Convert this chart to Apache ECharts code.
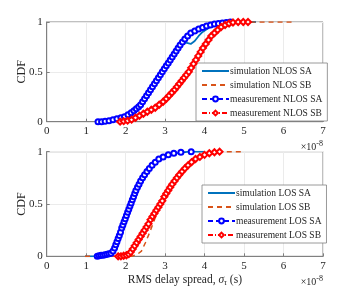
<!DOCTYPE html>
<html>
<head>
<meta charset="utf-8">
<script src="https://cdn.jsdelivr.net/npm/echarts@6/dist/echarts.min.js"></script>
<style>html,body{margin:0;padding:0;background:#fff}#c{width:358px;height:292px}</style>
</head>
<body>
<div id="c"></div>
<script>
// x values in units of 1e-8 s
const xTicks = [0, 1, 2, 3, 4, 5, 6, 7];
const yTicks = [0, 0.5, 1];

const simNlosSA = [[1.75,0],[1.9,0.03],[2.0,0.05],[2.1,0.09],[2.2,0.12],[2.3,0.14],[2.4,0.19],[2.5,0.26],[2.58,0.32],[2.65,0.34],[2.75,0.40],[2.85,0.47],[2.95,0.53],[3.05,0.60],[3.15,0.64],[3.25,0.68],[3.35,0.74],[3.45,0.79],[3.55,0.79],[3.65,0.78],[3.75,0.81],[3.85,0.86],[3.95,0.90],[4.1,0.94],[4.3,0.97],[4.6,0.99],[5.0,1.0],[5.3,1.0]];
const simNlosSB = [[1.9,0],[2.3,0.04],[2.7,0.12],[3.0,0.21],[3.3,0.35],[3.6,0.50],[3.9,0.69],[4.2,0.86],[4.5,0.95],[4.8,0.99],[5.2,1.0],[6.25,1.0]];
const measNlosSA = [[1.30,0],[1.39,0],[1.48,0.005],[1.58,0.01],[1.68,0.02],[1.78,0.03],[1.88,0.04],[1.97,0.05],[2.06,0.07],[2.14,0.09],[2.21,0.11],[2.27,0.13],[2.33,0.15],[2.38,0.17],[2.43,0.20],[2.48,0.23],[2.53,0.26],[2.58,0.29],[2.63,0.32],[2.68,0.35],[2.73,0.38],[2.78,0.41],[2.83,0.44],[2.88,0.47],[2.93,0.50],[2.98,0.53],[3.03,0.56],[3.08,0.59],[3.13,0.62],[3.18,0.65],[3.23,0.68],[3.28,0.71],[3.33,0.74],[3.38,0.77],[3.44,0.80],[3.50,0.83],[3.57,0.86],[3.65,0.89],[3.75,0.91],[3.85,0.93],[3.95,0.945],[4.05,0.96],[4.15,0.97],[4.25,0.98],[4.35,0.985],[4.45,0.99],[4.55,0.995],[4.65,1.0]];
const measNlosSB = [[1.86,0],[1.95,0.005],[2.05,0.01],[2.15,0.02],[2.25,0.04],[2.35,0.06],[2.45,0.08],[2.55,0.10],[2.65,0.12],[2.75,0.14],[2.85,0.17],[2.95,0.20],[3.03,0.23],[3.10,0.26],[3.17,0.29],[3.24,0.32],[3.30,0.35],[3.36,0.38],[3.42,0.41],[3.48,0.44],[3.54,0.47],[3.60,0.50],[3.66,0.54],[3.72,0.58],[3.78,0.62],[3.84,0.66],[3.90,0.70],[3.96,0.74],[4.03,0.78],[4.10,0.82],[4.17,0.86],[4.25,0.89],[4.33,0.92],[4.42,0.95],[4.52,0.97],[4.62,0.985],[4.72,0.995],[4.85,1.0],[4.98,1.0],[5.10,1.0]];

const simLosSA = [[0.97,0],[1.3,0],[1.6,0],[1.7,0.05],[1.8,0.15],[1.9,0.27],[2.0,0.38],[2.1,0.48],[2.2,0.58],[2.3,0.67],[2.4,0.74],[2.5,0.79],[2.7,0.88],[2.9,0.94],[3.2,0.98],[3.6,1.0],[4.0,1.0]];
const simLosSB = [[0.97,0],[1.4,0],[1.75,0],[2.15,0],[2.3,0.02],[2.4,0.05],[2.5,0.13],[2.6,0.22],[2.7,0.32],[2.8,0.42],[2.9,0.50],[3.0,0.58],[3.2,0.70],[3.4,0.80],[3.6,0.87],[3.8,0.92],[4.0,0.96],[4.3,0.99],[4.6,1.0],[4.97,1.0]];
const measLosSA = [[1.28,0],[1.33,0.005],[1.38,0.01],[1.43,0.01],[1.48,0.015],[1.53,0.02],[1.58,0.025],[1.63,0.03],[1.68,0.05],[1.72,0.08],[1.75,0.11],[1.78,0.14],[1.81,0.17],[1.84,0.20],[1.87,0.23],[1.90,0.27],[1.93,0.30],[1.96,0.33],[1.99,0.36],[2.02,0.39],[2.05,0.42],[2.08,0.45],[2.11,0.48],[2.14,0.51],[2.17,0.54],[2.20,0.57],[2.23,0.60],[2.26,0.63],[2.30,0.66],[2.34,0.69],[2.38,0.72],[2.43,0.75],[2.48,0.78],[2.54,0.81],[2.60,0.84],[2.67,0.87],[2.75,0.90],[2.84,0.93],[2.95,0.95],[3.08,0.97],[3.22,0.985],[3.40,0.995],[3.66,1.0]];
const measLosSB = [[1.81,0],[1.88,0],[1.95,0.005],[2.02,0.01],[2.08,0.02],[2.13,0.04],[2.18,0.07],[2.23,0.10],[2.28,0.13],[2.33,0.16],[2.38,0.19],[2.43,0.22],[2.48,0.25],[2.53,0.28],[2.58,0.31],[2.63,0.35],[2.68,0.38],[2.73,0.41],[2.78,0.44],[2.83,0.47],[2.88,0.50],[2.93,0.53],[2.98,0.57],[3.03,0.60],[3.08,0.63],[3.13,0.66],[3.18,0.69],[3.24,0.72],[3.30,0.75],[3.36,0.78],[3.43,0.81],[3.50,0.84],[3.58,0.87],[3.67,0.90],[3.77,0.93],[3.88,0.95],[4.00,0.97],[4.12,0.985],[4.25,0.995],[4.38,1.0]];

const namesTop = ['simulation NLOS SA','simulation NLOS SB','measurement NLOS SA','measurement NLOS SB'];
const namesBot = ['simulation LOS SA','simulation LOS SB','measurement LOS SA','measurement LOS SB'];

const FONT = 'Liberation Serif';
const TXT = '#262626';
const C_SIMA = '#0072BD', C_SIMB = '#D95319', C_MA = '#0000FF', C_MB = '#FF0000';

function xAx(idx, withName) {
  return {
    type: 'value', gridIndex: idx, min: 0, max: 7, interval: 1,
    axisLine: { show: true, lineStyle: { color: '#808080', width: 1 } },
    axisTick: { show: true, inside: true, length: 3, lineStyle: { color: '#808080' } },
    axisLabel: { color: TXT, fontFamily: FONT, fontSize: 11, margin: 4,
      formatter: v => xTicks.includes(v) ? String(v) : '' },
    splitLine: { show: true, lineStyle: { color: '#ebebeb', width: 1 } },
    name: withName ? 'RMS delay spread, {i|σ}{s|τ} (s)' : '',
    nameLocation: 'middle', nameGap: 17,
    nameTextStyle: { color: TXT, fontFamily: FONT, fontSize: 11.5,
      rich: { i: { fontStyle: 'italic', fontFamily: FONT, fontSize: 11.5, color: TXT },
              s: { fontStyle: 'italic', fontFamily: FONT, fontSize: 8, color: TXT, verticalAlign: 'bottom', padding: [6,0,0,0] } } }
  };
}
function yAx(idx) {
  return {
    type: 'value', gridIndex: idx, min: 0, max: 1, interval: 0.5,
    axisLine: { show: true, lineStyle: { color: '#808080', width: 1 } },
    axisTick: { show: true, inside: true, length: 3, lineStyle: { color: '#808080' } },
    axisLabel: { color: TXT, fontFamily: FONT, fontSize: 11, margin: 4,
      formatter: v => yTicks.includes(v) ? String(v) : '' },
    splitLine: { show: true, lineStyle: { color: '#ebebeb', width: 1 } },
    name: 'CDF', nameLocation: 'middle', nameGap: 19, nameRotate: 90, nameMoveOverlap: false,
    nameTextStyle: { color: TXT, fontFamily: FONT, fontSize: 12 }
  };
}
function simSeries(name, data, color, dashed, idx) {
  return { type: 'line', name, data, xAxisIndex: idx, yAxisIndex: idx,
    symbol: 'none', smooth: false, z: 3,
    lineStyle: { color, width: dashed ? 1.5 : 1.8, type: dashed ? [5, 4] : 'solid' },
    itemStyle: { color } };
}
function measSeries(name, data, color, sym, dash, idx) {
  return { type: 'line', name, data, xAxisIndex: idx, yAxisIndex: idx,
    symbol: sym, symbolSize: sym === 'emptyDiamond' ? 6 : 5, showAllSymbol: true, z: 4,
    lineStyle: { color, width: 0.7, type: dash },
    itemStyle: { color, borderColor: color, borderWidth: 0.7 } };
}
function legend(names, left, top) {
  return {
    data: [
      { name: names[0], itemStyle: { opacity: 0 } },
      { name: names[1], itemStyle: { opacity: 0 } },
      { name: names[2] },
      { name: names[3] }
    ],
    orient: 'vertical', left, top,
    itemWidth: 27, itemHeight: 6, itemGap: 4,
    padding: [3, 5, 3, 5],
    backgroundColor: '#fff', borderColor: '#808080', borderWidth: 0.8, borderRadius: 0,
    textStyle: { fontFamily: FONT, fontSize: 9.5, color: TXT, padding: [0,0,0,-4] },
    selectedMode: false
  };
}

const chart = echarts.init(document.getElementById('c'), null, { renderer: 'canvas' });
chart.setOption({
  animation: false,
  backgroundColor: '#fff',
  grid: [
    { left: 46.7, right: 35, top: 22, height: 99.7, show: true, borderColor: '#808080', borderWidth: 1, backgroundColor: '#fff' },
    { left: 46.7, right: 35, top: 151.7, height: 104.6, show: true, borderColor: '#808080', borderWidth: 1, backgroundColor: '#fff' }
  ],
  xAxis: [xAx(0, false), xAx(1, true)],
  yAxis: [yAx(0), yAx(1)],
  legend: [legend(namesTop, 196, 63), legend(namesBot, 202, 185)],
  series: [
    simSeries(namesTop[0], simNlosSA, C_SIMA, false, 0),
    simSeries(namesTop[1], simNlosSB, C_SIMB, true, 0),
    measSeries(namesTop[2], measNlosSA, C_MA, 'emptyCircle', [5, 3], 0),
    measSeries(namesTop[3], measNlosSB, C_MB, 'emptyDiamond', [5, 2, 1, 2], 0),
    simSeries(namesBot[0], simLosSA, C_SIMA, false, 1),
    simSeries(namesBot[1], simLosSB, C_SIMB, true, 1),
    measSeries(namesBot[2], measLosSA, C_MA, 'emptyCircle', [5, 3], 1),
    measSeries(namesBot[3], measLosSB, C_MB, 'emptyDiamond', [5, 2, 1, 2], 1)
  ],
  graphic: [
    { type: 'text', right: 35, top: 140, style: { text: '×10{e|-8}', fill: TXT, font: '10px "Liberation Serif"',
      rich: { e: { fontSize: 8, fontFamily: FONT, verticalAlign: 'top', padding: [0,0,6,0], fill: TXT } } } },
    { type: 'text', right: 35, top: 275, style: { text: '×10{e|-8}', fill: TXT, font: '10px "Liberation Serif"',
      rich: { e: { fontSize: 8, fontFamily: FONT, verticalAlign: 'top', padding: [0,0,6,0], fill: TXT } } } }
  ]
});
</script>
</body>
</html>
